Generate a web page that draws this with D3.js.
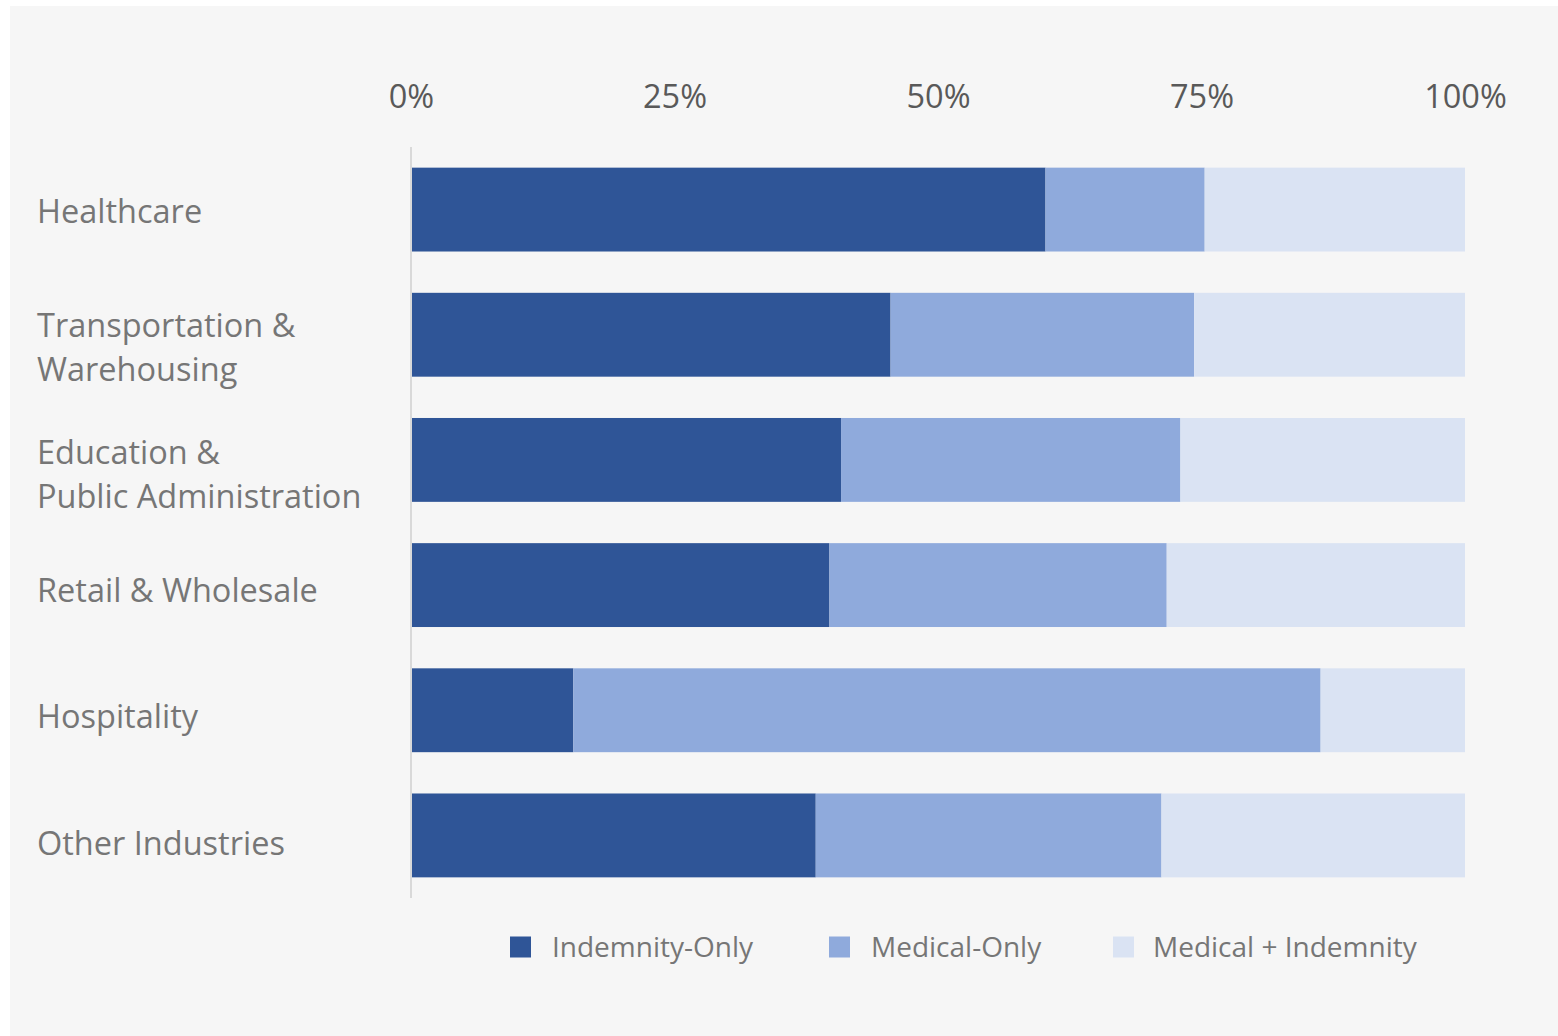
<!DOCTYPE html>
<html>
<head>
<meta charset="utf-8">
<script src="https://cdn.jsdelivr.net/npm/d3@7"></script>
<style>
  body { margin: 0; background: #fff; }
  svg { display: block; }
</style>
</head>
<body>
<svg id="chart"></svg>
<script>
// data (percent of claims)
let categories = [
	["Healthcare"],
	["Transportation &", "Warehousing"],
	["Education &", "Public Administration"],
	["Retail & Wholesale"],
	["Hospitality"],
	["Other Industries"]
];
let seriesNames = ["Indemnity-Only", "Medical-Only", "Medical + Indemnity"];
let indemnityOnly = [60.2, 45.5, 40.8, 39.7, 15.4, 38.4];
let medicalOnly = [15.1, 28.8, 32.2, 32.0, 70.9, 32.8];
let medicalIndemnity = [24.7, 25.7, 27.0, 28.3, 13.7, 28.8];
let tickValues = [0, 25, 50, 75, 100];

let width = 1558;
let height = 1036;
let colors = ["#2f5597", "#8faadc", "#dae3f3"];
let font = "'Open Sans', sans-serif";

const svg = d3.select("#chart")
			  .attr("width", width)
			  .attr("height", height);

// grey panel
svg.append("rect")
   .attr("x", 10).attr("y", 6)
   .attr("width", width - 10).attr("height", height - 6)
   .attr("fill", "#f6f6f6");

let table = categories.map((c, i) => ({
	key: i,
	label: c,
	"Indemnity-Only": indemnityOnly[i],
	"Medical-Only": medicalOnly[i],
	"Medical + Indemnity": medicalIndemnity[i]
}));

let x = d3.scaleLinear().domain([0, 100]).range([411, 1465]);
let y = d3.scaleBand().domain(table.map(d => d.key)).range([147, 898]).paddingInner(0.33).paddingOuter(0.165);
// labels sit on a slightly longer step than the bars
let yLabel = d3.scaleBand().domain(table.map(d => d.key)).range([148.5, 906.5]);

let stack = d3.stack().keys(seriesNames)(table);

// bars
svg.append("g")
   .selectAll("g")
   .data(stack)
   .join("g")
   .attr("fill", (d, i) => colors[i])
   .selectAll("rect")
   .data(d => d)
   .join("rect")
   .attr("x", d => x(d[0]))
   .attr("y", d => y(d.data.key))
   .attr("width", d => x(d[1]) - x(d[0]))
   .attr("height", y.bandwidth());

// vertical axis line
svg.append("line")
   .attr("x1", x(0)).attr("x2", x(0))
   .attr("y1", 147).attr("y2", 898)
   .attr("stroke", "#d9d9d9")
   .attr("stroke-width", 2);

// top axis labels
const xAxis = svg.append("g")
				 .attr("transform", "translate(0,108)")
				 .call(d3.axisTop(x).tickValues(tickValues).tickFormat(d => d + "%").tickSize(0).tickPadding(0));
xAxis.select(".domain").remove();
xAxis.selectAll("text")
	 .attr("font-family", font)
	 .attr("font-size", 32.5)
	 .attr("fill", "#595959");

// category labels
const labels = svg.append("g")
				  .selectAll("text")
				  .data(table)
				  .join("text")
				  .attr("x", 37)
				  .attr("y", d => yLabel(d.key) + yLabel.bandwidth() / 2 + (d.label.length > 1 ? -12 : 0))
				  .attr("font-family", font)
				  .attr("font-size", 32.5)
				  .attr("fill", "#767676");
labels.selectAll("tspan")
	  .data(d => d.label.map((t, i) => ({t: t, i: i})))
	  .join("tspan")
	  .attr("x", 37)
	  .attr("dy", d => d.i === 0 ? "0.35em" : "1.35em")
	  .text(d => d.t);

// legend
let legendX = [510, 829, 1113];
const legend = svg.append("g")
				  .selectAll("g")
				  .data(seriesNames)
				  .join("g")
				  .attr("transform", (d, i) => `translate(${legendX[i]},947)`);
legend.append("rect")
	  .attr("x", 0).attr("y", -10.5)
	  .attr("width", 21).attr("height", 21)
	  .attr("fill", (d, i) => colors[i]);
legend.append("text")
	  .attr("x", (d, i) => i === 2 ? 40 : 42)
	  .attr("dy", "0.35em")
	  .attr("font-family", font)
	  .attr("font-size", 28)
	  .attr("fill", "#767676")
	  .text(d => d);
</script>
</body>
</html>
